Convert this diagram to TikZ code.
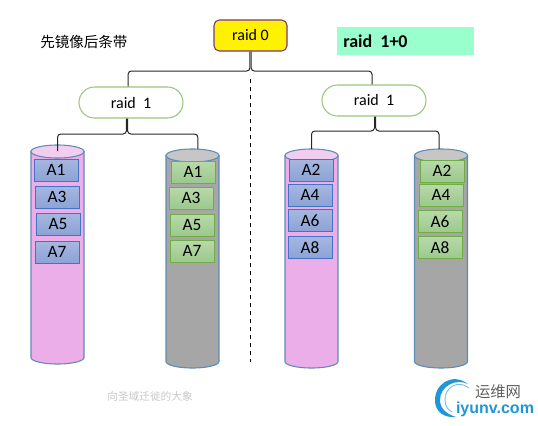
\documentclass[tikz,border=0pt]{standalone}
\usepackage{fontspec}
\setmainfont{Carlito}
\newfontfamily\cjk{Noto Sans CJK SC}
\newfontfamily\logofont{Liberation Sans}
\usetikzlibrary{positioning,calc}
\definecolor{cylline}{HTML}{5F8BB5}
\definecolor{pinkbody}{HTML}{EBAEE8}
\definecolor{pinkend}{HTML}{F1CDF0}
\definecolor{graybody}{HTML}{A6A6A6}
\definecolor{grayend}{HTML}{C6C6C6}
\definecolor{logoblue}{HTML}{1E96D8}
\definecolor{tagfill}{HTML}{99FFCC}
\definecolor{blueline}{HTML}{4472C4}
\definecolor{greenline}{HTML}{70AD47}
\tikzset{
  raidbox/.style={draw=#1,line width=0.8pt,minimum height=23.25pt,inner sep=0pt,font=\fontsize{12}{14}\selectfont},
  mirror/.style={raidbox={greenline!70},fill=white,rounded corners=11.6pt,minimum width=78pt},
  diskline/.style={draw=cylline,line width=0.8pt},
  blueblk/.style={draw=blueline,line width=0.7pt,top color={rgb,255:red,166;green,183;blue,224},bottom color={rgb,255:red,140;green,163;blue,214},
               minimum width=33pt,minimum height=16.5pt,inner sep=0pt,font=\fontsize{13}{15}\selectfont},
  greenblk/.style={draw=greenline,line width=0.7pt,top color={rgb,255:red,184;green,217;blue,170},bottom color={rgb,255:red,156;green,201;blue,140},
               minimum width=33pt,minimum height=16.5pt,inner sep=0pt,font=\fontsize{13}{15}\selectfont},
  link/.style={draw=black!85,line width=0.75pt,rounded corners=2.5pt}
}
\begin{document}
\begin{tikzpicture}[x=0.75pt,y=-0.75pt]
  \useasboundingbox (0,0) rectangle (538,425);
  % labels at the top
  \node[font=\cjk\fontsize{10.9}{12}\selectfont,anchor=west,inner sep=0pt] (title) at (40,42) {先镜像后条带};
  \node[fill=tagfill,minimum width=102.75pt,minimum height=21pt,inner sep=0pt] (tag) at (405.5,41) {};
  \node[font=\bfseries\fontsize{13.5}{15}\selectfont,anchor=west,inner sep=0pt] (taglabel) at (343,41) {raid\ \ 1+0};
  % raid tree
  \node[raidbox={violet!60!gray},fill=yellow,rounded corners=4pt,minimum width=54.75pt] (raidzero) at (250.5,35.5) {raid 0};
  \node[mirror] (raidl) at (131,102.5) {raid\ \ 1};
  \node[mirror] (raidr) at (374,100.5) {raid\ \ 1};
  % disks: name, x, y of top centre, body, end
  \foreach \n/\x/\y/\b/\e in {pinkl/57.5/151.5/pinkbody/pinkend,grayl/192.5/155.5/graybody/grayend,
                              pinkr/311.5/155.5/pinkbody/pinkend,grayr/441/155.5/graybody/grayend}{
    \draw[diskline,fill=\b] (\x-26.5,\y) -- (\x-26.5,\y+206)
       arc[start angle=180,end angle=360,x radius=19.875pt,y radius=4.9pt] -- (\x+26.5,\y) -- cycle;
    \draw[diskline,fill=\e] (\x,\y) ellipse[x radius=19.875pt,y radius=4.9pt];
    \coordinate (\n) at (\x,\y-6.5);
  }
  % blocks: name, x, y, text
  \foreach \n/\x/\y/\t in {pa/56/170/A1,pb/57/197/A3,pc/58/224/A5,pd/57/252/A7,
                           pe/311/170/A2,pf/310/195/A4,pg/310/220.5/A6,ph/310/247.5/A8}
    \node[blueblk] (\n) at (\x,\y) {\t};
  \foreach \n/\x/\y/\t in {ga/193/172/A1,gb/191/198/A3,gc/192/225/A5,gd/192/251/A7,
                           ge/442/171/A2,gf/441/195/A4,gg/440/221.5/A6,gh/440/247.5/A8}
    \node[greenblk] (\n) at (\x,\y) {\t};
  % connectors
  \draw[link] ([xshift=-0.4pt]raidzero.south) |- (190,71) -| ([xshift=-2.2pt]raidl.north);
  \draw[link] ([xshift=0.4pt]raidzero.south) |- (310,71) -| ([xshift=-1.5pt]raidr.north);
  \draw[link,shorten >=-4.5pt] ([xshift=-3.4pt]raidl.south) |- (90,134) -| (pinkl);
  \draw[link] ([xshift=-2.6pt]raidl.south) |- (160,134) -| ([xshift=4pt]grayl);
  \draw[link] ([xshift=0.4pt]raidr.south) |- (340,131) -| (pinkr);
  \draw[link] ([xshift=1.2pt]raidr.south) |- (400,131) -| ([xshift=-1.5pt]grayr);
  \coordinate (splittop) at (250,79);
  \coordinate (splitend) at (250,362);
  \draw[dashed,line width=0.6pt] (splittop) -- (splitend);
  % footer
  \node[font=\cjk\fontsize{8}{9}\selectfont,text=black!22,inner sep=0pt] (mark) at (150,396) {向圣域迁徙的大象};
  \node[font=\cjk\fontsize{11.5}{13}\selectfont,text=black!62,inner sep=0pt] (logocn) at (498,392) {运维网};
  \node[font=\logofont\bfseries\fontsize{12}{14}\selectfont,text=logoblue,inner sep=0pt] (logoen) at (495,409) {iyunv.com};
  \fill[logoblue] (468,384) .. controls (452,372) and (434,384) .. (435,402)
     .. controls (436,412) and (444,418) .. (456,417)
     .. controls (446,414) and (440,408) .. (440,400)
     .. controls (440,386) and (456,378) .. (468,384);
  \draw[logoblue!60,line width=0.7pt] (469,388) .. controls (458,379) and (444,388) .. (445,400)
     .. controls (445,406) and (448,410) .. (452,412);
\end{tikzpicture}
\end{document}
